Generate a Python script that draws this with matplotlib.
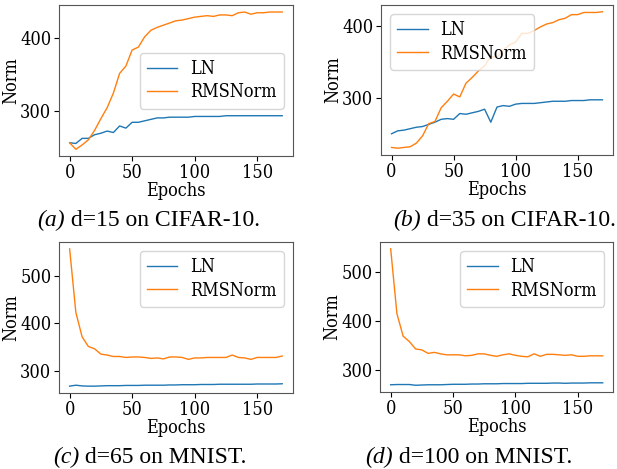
import numpy as np
import matplotlib
matplotlib.use("Agg")
import matplotlib.pyplot as plt

# epochs sampled every 5
epochs = np.arange(0, 171, 5)

# (a) d=15 on CIFAR-10
ln_a = [257, 256, 263, 263, 268, 270, 273, 271, 280, 277, 285, 285, 287, 289, 291, 291,
        292, 292, 292, 292, 293, 293, 293, 293, 293, 294, 294, 294, 294, 294, 294, 294,
        294, 294, 294]
rms_a = [257, 248, 254, 261, 274, 290, 305, 325, 352, 362, 384, 388, 402, 411, 415, 418,
         421, 424, 425, 427, 429, 430, 431, 430, 432, 432, 431, 435, 436, 433, 435, 435,
         436, 436, 436]

# (b) d=35 on CIFAR-10
ln_b = [251, 255, 256, 258, 260, 261, 264, 267, 271, 272, 271, 279, 278, 280, 282, 285,
        267, 288, 290, 289, 292, 293, 293, 293, 294, 295, 296, 296, 296, 297, 297, 297,
        298, 298, 298]
rms_b = [232, 231, 232, 233, 238, 248, 265, 268, 287, 296, 306, 302, 321, 329, 338, 345,
         358, 357, 367, 374, 378, 390, 390, 394, 399, 403, 405, 409, 411, 416, 416, 419,
         419, 419, 420]

# (c) d=65 on MNIST
ln_c = [269, 271, 269.5, 269, 269, 269.5, 270, 270, 270, 270.5, 270.5, 270.5, 271, 271,
        271, 271, 271.5, 271.5, 272, 272, 272, 272.5, 272.5, 272.5, 273, 273, 273, 273,
        273, 273, 273.5, 273.5, 273.5, 273.5, 274]
rms_c = [556, 423, 372, 352, 347, 336, 334, 331, 331, 329, 330, 330, 329, 327, 328, 326,
         330, 330, 329, 325, 328, 328, 329, 329, 329, 329, 334, 329, 328, 325, 329, 329,
         329, 329, 332]

# (d) d=100 on MNIST
ln_d = [270, 270.5, 270.5, 270.5, 269, 269.5, 270, 270, 270, 270.5, 271, 271, 271, 271.5,
        271.5, 272, 272, 272, 272.5, 272.5, 272.5, 272.5, 273, 273, 273, 273, 273.5, 273.5,
        273, 273.5, 273.5, 273.5, 274, 274, 274]
rms_d = [547, 415, 369, 358, 343, 341, 334, 336, 333, 331, 331, 331, 329, 330, 333, 333,
         330, 328, 331, 333, 330, 328, 327, 333, 328, 332, 332, 331, 330, 331, 328, 328,
         329, 329, 329]

panels = [
    (ln_a, rms_a, "center right", "(a)", " d=15 on CIFAR-10."),
    (ln_b, rms_b, "upper left", "(b)", " d=35 on CIFAR-10."),
    (ln_c, rms_c, "upper right", "(c)", " d=65 on MNIST."),
    (ln_d, rms_d, "upper right", "(d)", " d=100 on MNIST."),
]

# axes boxes in figure fractions
boxes = [
    [0.0956, 0.667, 0.379, 0.322],
    [0.6175, 0.6695, 0.376, 0.320],
    [0.0956, 0.162, 0.379, 0.322],
    [0.616, 0.164, 0.378, 0.320],
]
# caption left edge / baseline (figure fractions)
captions = [(0.060, 0.518), (0.637, 0.518), (0.086, 0.013), (0.592, 0.013)]

plt.rcParams["font.family"] = "DejaVu Serif"
plt.rcParams["font.stretch"] = "condensed"
plt.rcParams["font.size"] = 13

fig = plt.figure(figsize=(6.17, 4.69), dpi=100)

for (ln, rms, loc, tag, desc), box, (cx, cy) in zip(panels, boxes, captions):
    ax = fig.add_axes(box)
    ax.plot(epochs, ln, color="tab:blue", lw=1.0, label="LN")
    ax.plot(epochs, rms, color="tab:orange", lw=1.0, label="RMSNorm")
    ax.set_xlabel("Epochs", labelpad=0)
    ax.set_ylabel("Norm", labelpad=0)
    ax.set_xticks([0, 50, 100, 150])
    ax.tick_params(pad=2)
    for s in ax.spines.values():
        s.set_color("#555555")
    ax.legend(loc=loc, handlelength=1.7, handletextpad=0.7, borderpad=0.4,
              labelspacing=0.3)
    t = fig.text(cx, cy, tag, family="Liberation Serif", style="italic", fontsize=17,
                 ha="left", va="baseline")
    ax.annotate(desc, xy=(1, 0), xycoords=t, family="Liberation Serif", fontsize=17,
                ha="left", va="bottom", annotation_clip=False)

fig.savefig("out.png", dpi=100)
